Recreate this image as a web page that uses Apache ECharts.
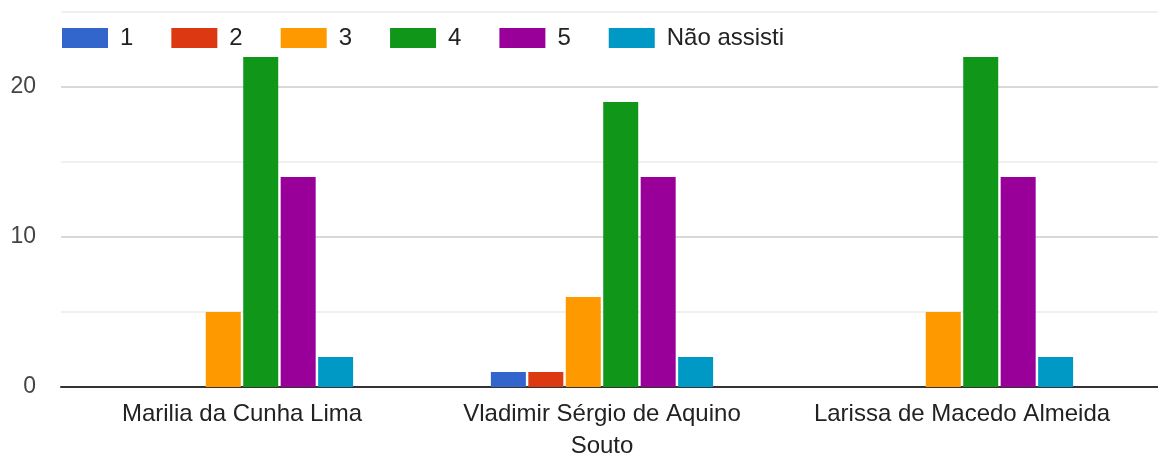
<!DOCTYPE html>
<html>
<head>
<meta charset="utf-8">
<script src="https://cdn.jsdelivr.net/npm/echarts@6/dist/echarts.min.js"></script>
<style>
  html, body { margin: 0; padding: 0; background: #fff; }
  #chart { width: 1158px; height: 457px; }
</style>
</head>
<body>
<div id="chart"></div>
<script>
// categorias (professores)
var categories = ['Marilia da Cunha Lima', 'Vladimir Sérgio de Aquino\nSouto', 'Larissa de Macedo Almeida'];
var seriesNames = ['1', '2', '3', '4', '5', 'Não assisti'];
var nota1 = [0, 1, 0];
var nota2 = [0, 1, 0];
var nota3 = [5, 6, 5];
var nota4 = [22, 19, 22];
var nota5 = [14, 14, 14];
var naoAssisti = [2, 2, 2];
var yTicks = [0, 10, 20];

var colors = ['#3366cc', '#dc3912', '#ff9900', '#109618', '#990099', '#0099c6'];
var values = [nota1, nota2, nota3, nota4, nota5, naoAssisti];

var chart = echarts.init(document.getElementById('chart'));

var series = [];
for (var i = 0; i < seriesNames.length; i++) {
  series.push({
    name: seriesNames[i],
    type: 'bar',
    xAxisIndex: 1,
    yAxisIndex: 1,
    barWidth: 35,
    barGap: '7%',
    itemStyle: { color: colors[i] },
    data: values[i]
  });
}

var option = {
  animation: false,
  color: colors,
  legend: {
    left: 62,
    top: 26,
    padding: 0,
    itemWidth: 46,
    itemHeight: 20,
    itemGap: 38,
    icon: 'rect',
    textStyle: { fontFamily: 'Liberation Sans', fontSize: 24, color: '#222', padding: [0, 0, 0, 7] },
    data: seriesNames
  },
  grid: [
    { left: 61, right: 0, top: 12, bottom: 70, outerBoundsMode: 'none' },
    { left: 62, right: 16, top: 12, bottom: 70, outerBoundsMode: 'none' }
  ],
  xAxis: [
    {
      type: 'category', gridIndex: 0, data: categories,
      axisLine: { show: true, lineStyle: { color: '#333', width: 2 } },
      axisTick: { show: false }, axisLabel: { show: false }
    },
    {
      type: 'category', gridIndex: 1, data: categories,
      axisLine: { show: false }, axisTick: { show: false },
      axisLabel: { interval: 0, fontFamily: 'Liberation Sans', fontSize: 24, color: '#222', margin: 11, lineHeight: 32 }
    }
  ],
  yAxis: [
    {
      type: 'value', gridIndex: 0, min: 0, max: 25, interval: 5,
      axisLine: { show: false }, axisTick: { show: false },
      axisLabel: {
        fontFamily: 'Liberation Sans', fontSize: 23, color: '#444', margin: 25,
        formatter: function (v) { return yTicks.indexOf(v) >= 0 ? String(v) : ''; }
      },
      splitLine: { lineStyle: { color: ['#cccccc', '#ebebeb'], width: 1.5 } }
    },
    {
      type: 'value', gridIndex: 1, min: 0, max: 25, interval: 5,
      show: false, splitLine: { show: false }
    }
  ],
  series: series
};

chart.setOption(option);
</script>
</body>
</html>
